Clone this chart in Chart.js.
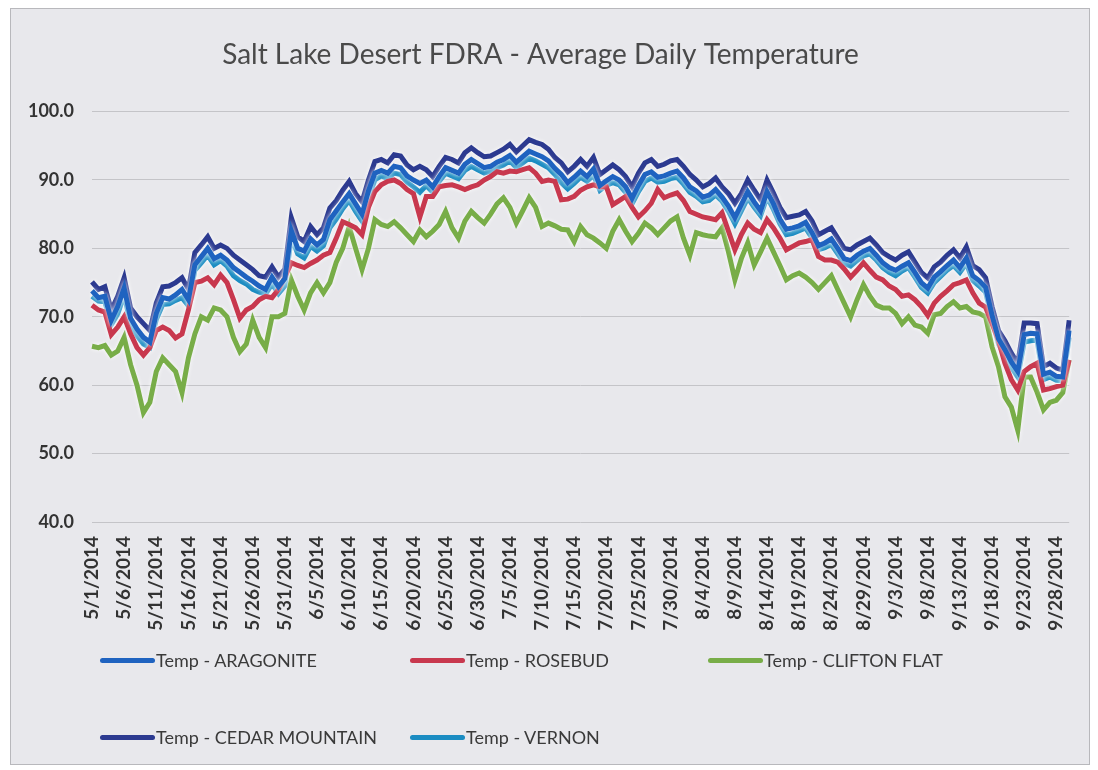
<!DOCTYPE html>
<html>
<head>
<meta charset="utf-8">
<script src="https://cdn.jsdelivr.net/npm/chart.js@4/dist/chart.umd.min.js"></script>
<style>
  body { margin: 0; background: #ffffff; }
  #wrap { position: relative; width: 1098px; height: 770px; overflow: hidden; }
  #frame { position: absolute; left: 10px; top: 8px; width: 1078px; height: 755px;
           border: 1px solid #b8b8bc; background: #e8e8ec; }
  #chart { position: absolute; left: 0; top: 0; }
  #legend { position: absolute; left: 0; top: 0; width: 1098px; height: 770px; pointer-events: none;
            font-family: Lato, sans-serif; font-size: 18px; color: #3a3a3a; }
  .item { position: absolute; display: flex; align-items: center; height: 24px; }
  .swatch { width: 55px; height: 5px; border-radius: 3px; margin-right: 1px; }
</style>
</head>
<body>
<div id="wrap">
  <div id="frame"></div>
  <canvas id="chart" width="1098" height="770"></canvas>
  <div id="legend"></div>
</div>
<script>
// days 5/1/2014 .. 9/30/2014
const labels = [];
for (let d = new Date(2014, 4, 1); d <= new Date(2014, 8, 30); d.setDate(d.getDate() + 1)) {
  labels.push((d.getMonth() + 1) + "/" + d.getDate() + "/" + d.getFullYear());
}

const yTicks = [40, 50, 60, 70, 80, 90, 100];

const aragonite = [
  73.8, 72.8, 73, 69.5, 71.5, 74.2, 69.8, 68.2, 67, 66.3, 70.5, 72.8, 72.6, 73.2, 74, 72.5, 77.6, 78.8, 80, 78.5,
  79, 78.3, 77.2, 76.5, 75.8, 75.2, 74.5, 74, 75.8, 74.4, 75.6, 82.6, 80, 79.6, 81.4, 80.5, 81.3, 84.2, 85.5, 86.8,
  88, 86.5, 85, 88.4, 91, 91.4, 91, 92, 91.8, 90.6, 90, 89.5, 90, 89, 90.5, 91.8, 91.4, 91, 92.3, 93,
  92.4, 91.8, 92, 92.6, 93, 93.6, 92.6, 93.4, 94.2, 93.8, 93.4, 92.8, 91.7, 90.8, 89.6, 90.4, 91.3, 90.5, 91.6, 89.2,
  89.9, 90.5, 90, 89, 87.3, 89.2, 90.8, 91.2, 90.4, 90.6, 91, 91.3, 90.3, 89, 88.4, 87.5, 87.8, 88.6, 87.5, 86.2,
  84.5, 86.4, 88.3, 86.8, 85.5, 88.3, 86.5, 84.3, 82.8, 83, 83.3, 83.8, 82.3, 80.4, 80.8, 81.4, 80, 78.5, 78.2, 79,
  79.6, 80, 79, 77.9, 77.2, 76.8, 77.4, 77.9, 76.5, 75, 74.2, 75.8, 76.6, 77.5, 78.3, 77.2, 78.6, 76, 75.3, 74.3,
  70.2, 66.8, 65.2, 63.4, 62, 67.4, 67.6, 67.5, 61.6, 61.9, 61.3, 61.2, 68
];
const rosebud = [
  71.7, 71, 70.7, 67.4, 68.5, 70, 67.5, 65.5, 64.4, 65.5, 68, 68.5, 68, 66.9, 67.5, 71, 75, 75.2, 75.7, 74.7,
  76.1, 75, 72.5, 69.8, 71, 71.5, 72.5, 73, 72.8, 74, 75.8, 77.9, 77.5, 77.2, 77.8, 78.3, 79, 79.4, 81.5, 83.9,
  83.5, 83, 82, 86, 88.3, 89.3, 89.8, 90, 89.5, 88.6, 88, 84.6, 87.6, 87.6, 89, 89.2, 89.3, 89, 88.6, 89,
  89.3, 90, 90.5, 91.2, 91, 91.3, 91.2, 91.5, 91.8, 91, 89.8, 90, 89.8, 87.1, 87.2, 87.6, 88.5, 89, 89.3, 89,
  89, 86.4, 87, 87.6, 86, 84.6, 85.5, 86.6, 88.6, 87.4, 87.8, 88.1, 87, 85.4, 85, 84.6, 84.4, 84.2, 85.2, 82.5,
  79.8, 82, 83.7, 82.8, 82.3, 84.2, 83, 81.5, 79.8, 80.3, 80.8, 81, 81.3, 78.8, 78.3, 78.3, 78, 77, 75.8, 76.8,
  77.9, 76.8, 75.8, 75.4, 74.5, 74, 73, 73.2, 72.5, 71.5, 70.2, 72, 73, 73.8, 74.7, 75, 75.4, 73.5, 72, 71.4,
  69, 66.5, 63.2, 60.8, 59.3, 62, 62.7, 63.2, 59.3, 59.5, 59.8, 60, 63.7
];
const cliftonFlat = [
  65.7, 65.5, 65.8, 64.4, 65, 67, 63, 60, 56, 57.5, 62, 64, 63, 62, 58.9, 64, 67.5, 70, 69.5, 71.3,
  71, 70, 67, 64.9, 66, 69.5, 67, 65.5, 70, 70, 70.5, 75.4, 73, 71, 73.5, 75, 73.5, 75, 78, 80,
  83.2, 80, 76.9, 80, 84.2, 83.5, 83.2, 83.9, 83, 82, 81, 82.7, 81.7, 82.5, 83.5, 85.4, 83, 81.5, 84, 85.4,
  84.5, 83.7, 85, 86.5, 87.4, 86, 83.7, 85.5, 87.4, 86, 83.2, 83.7, 83.3, 82.8, 82.7, 81, 83.2, 82, 81.5, 80.8,
  80, 82.5, 84.2, 82.5, 81, 82.2, 83.7, 83, 82, 83, 84, 84.6, 81.5, 79, 82.3, 82, 81.8, 81.7, 83, 79.5,
  75.4, 78.5, 80.8, 77.6, 79.5, 81.5, 79.5, 77.5, 75.4, 76, 76.4, 75.8, 75, 74, 75, 76, 74, 72, 70, 72.5,
  74.7, 73, 71.7, 71.3, 71.3, 70.5, 69, 70, 68.8, 68.5, 67.6, 70.3, 70.5, 71.5, 72.2, 71.3, 71.5, 70.7, 70.5, 70,
  65.6, 62.7, 58.3, 56.8, 53.4, 61.2, 61.2, 59, 56.4, 57.5, 57.8, 58.9, 63.7
];
const cedarMountain = [
  75.1, 74, 74.4, 71, 73, 75.7, 71.3, 70, 69, 68, 72, 74.4, 74.5, 75, 75.7, 74, 79.4, 80.5, 81.7, 80,
  80.5, 80, 79, 78.3, 77.6, 76.9, 76, 75.8, 77.3, 75.8, 77, 84.5, 81.7, 81, 83.2, 82, 83, 85.9, 87, 88.5,
  89.8, 88, 86.8, 90, 92.7, 93, 92.5, 93.7, 93.5, 92.2, 91.5, 92, 91.5, 90.5, 92, 93.3, 93, 92.5, 94, 94.7,
  94, 93.4, 93.5, 94, 94.5, 95.2, 94.1, 95, 95.9, 95.5, 95.2, 94.5, 93.3, 92.5, 91.2, 92, 93, 92, 93.3, 90.8,
  91.5, 92.2, 91.5, 90.5, 89, 91, 92.5, 93, 92, 92.3, 92.8, 93, 92, 90.8, 90, 89, 89.5, 90.3, 89, 88,
  86.6, 88, 90, 88.5, 87.1, 90, 88.1, 86, 84.5, 84.7, 84.9, 85.4, 84, 82, 82.5, 83, 81.5, 80, 79.8, 80.5,
  81, 81.5, 80.5, 79.4, 78.8, 78.3, 79, 79.5, 78, 76.5, 75.7, 77.3, 78, 79, 79.8, 78.6, 80.2, 77.5, 76.9, 75.7,
  71.5, 68, 66.5, 64.7, 63.2, 69.1, 69.1, 69, 62.7, 63.2, 62.5, 62.2, 69.5
];
const vernon = [
  73, 72.3, 72.2, 68.8, 70.4, 73.2, 69, 67.2, 66, 65.5, 69.6, 71.8, 71.9, 72.4, 72.8, 71.6, 76.8, 77.9, 79, 77.6,
  78.2, 77.4, 76, 75.3, 74.8, 74, 73.6, 73.3, 74.8, 73.4, 74.5, 81.5, 79.2, 78.6, 80.3, 79.6, 80.4, 83, 84.3, 85.8,
  87, 85.4, 84, 87.3, 90, 90.6, 90.2, 91, 90.8, 89.7, 89, 88.2, 89.2, 88.2, 89.8, 91, 90.6, 90.2, 91.4, 92,
  91.5, 91, 91.3, 91.8, 92.2, 92.8, 91.8, 92.5, 93.2, 92.8, 92.3, 91.8, 90.8, 89.6, 88.7, 89.5, 90.4, 89.8, 90.7, 88.5,
  89.2, 89.6, 89.3, 88.2, 86.5, 88.3, 89.8, 90.3, 89.7, 89.8, 90.2, 90.4, 89.4, 88.2, 87.6, 86.8, 87, 87.8, 86.9, 85.4,
  83.6, 85.5, 87.4, 86, 84.8, 87.5, 85.7, 83.6, 82, 82.2, 82.6, 83, 81.5, 79.8, 80.1, 80.6, 79.2, 77.8, 77.4, 78.2,
  78.9, 79.2, 78.3, 77.2, 76.5, 76, 76.7, 77.2, 75.8, 74.3, 73.5, 75, 75.9, 76.8, 77.5, 76.5, 77.8, 75.3, 74.5, 73.6,
  69.5, 66, 64.3, 62.6, 61.2, 66.3, 66.5, 66.6, 60.8, 61.2, 60.7, 60.6, 67
];

const seriesNames = ["Temp - ARAGONITE", "Temp - ROSEBUD", "Temp - CLIFTON FLAT", "Temp - CEDAR MOUNTAIN", "Temp - VERNON"];
const seriesColors = ["#1f63c0", "#c8384e", "#78ad48", "#2c3a90", "#1b8cc2"];
const seriesData = [aragonite, rosebud, cliftonFlat, cedarMountain, vernon];

// soft white edge round each line, like the scan
const haloPlugin = {
  id: "halo",
  beforeDatasetDraw(chart) {
    const ctx = chart.ctx;
    ctx.save();
    ctx.shadowColor = "rgba(255,255,255,0.95)";
    ctx.shadowBlur = 4;
  },
  afterDatasetDraw(chart) {
    chart.ctx.restore();
  }
};

const ctx = document.getElementById("chart").getContext("2d");
const chart = new Chart(ctx, {
  type: "line",
  data: {
    labels: labels,
    datasets: seriesData.map((d, i) => ({
      label: seriesNames[i],
      data: d,
      borderColor: seriesColors[i],
      backgroundColor: seriesColors[i],
      borderWidth: 5,
      pointRadius: 0,
      tension: 0,
      fill: false
    }))
  },
  options: {
    responsive: false,
    animation: false,
    layout: { padding: { left: 0, right: 17, top: 0, bottom: 130 } },
    plugins: {
      legend: { display: false },
      tooltip: { enabled: false },
      title: {
        display: true,
        text: "Salt Lake Desert FDRA - Average Daily Temperature",
        color: "#4a4a4a",
        font: { family: "Lato", size: 28, weight: "normal" },
        padding: { top: 38, bottom: 40 }
      }
    },
    scales: {
      x: {
        grid: { display: false },
        border: { display: false },
        ticks: {
          autoSkip: false,
          maxRotation: 90,
          minRotation: 90,
          padding: 6,
          color: "#333333",
          font: { family: "Lato", size: 19, weight: "bold" },
          callback: function (v, i) { return i % 5 === 0 ? labels[i] : ""; }
        },
        afterFit(axis) { axis.height = 118; }
      },
      y: {
        min: 40,
        max: 100,
        afterBuildTicks(axis) { axis.ticks = yTicks.map(v => ({ value: v })); },
        grid: { color: "#c4c4c8", lineWidth: 1, drawTicks: false },
        border: { display: false },
        ticks: {
          padding: 18,
          color: "#333333",
          font: { family: "Lato", size: 18, weight: "bold" },
          callback: v => v.toFixed(1)
        },
        afterFit(axis) { axis.width = 92; }
      }
    }
  },
  plugins: [haloPlugin]
});

// legend laid out in columns like the original
const legendPos = [[100, 660], [410, 660], [708, 660], [100, 737], [410, 737]];
const legend = document.getElementById("legend");
chart.data.datasets.forEach((ds, i) => {
  const item = document.createElement("div");
  item.className = "item";
  item.style.left = legendPos[i][0] + "px";
  item.style.top = (legendPos[i][1] - 12) + "px";
  item.innerHTML = '<span class="swatch" style="background:' + ds.borderColor + '"></span>' + ds.label;
  legend.appendChild(item);
});
</script>
</body>
</html>
